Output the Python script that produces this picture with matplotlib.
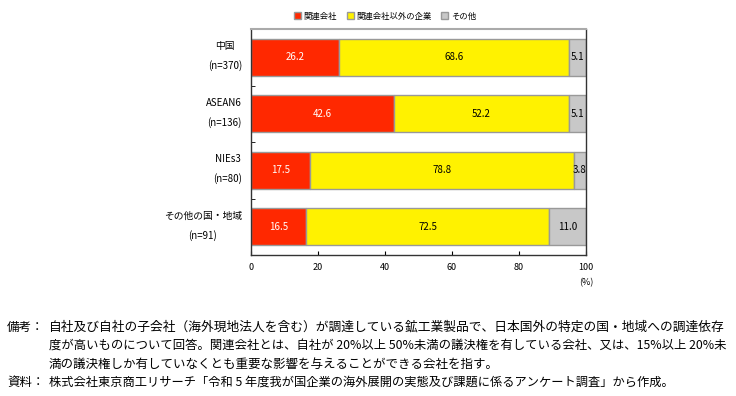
import matplotlib
matplotlib.use("Agg")
import matplotlib.pyplot as plt
import matplotlib.transforms as mtransforms
import numpy as np

plt.rcParams['font.family'] = ['Noto Sans CJK JP', 'DejaVu Sans']

# データ
regions = ["中国", "ASEAN6", "NIEs3", "その他の国・地域"]
counts = ["(n=370)", "(n=136)", "(n=80)", "(n=91)"]
kanren = [26.2, 42.6, 17.5, 16.5]
igai = [68.6, 52.2, 78.8, 72.5]
sonota = [5.1, 5.1, 3.8, 11.0]
series_names = ["関連会社", "関連会社以外の企業", "その他"]
xticks = [0, 20, 40, 60, 80, 100]

notes = [
    "自社及び自社の子会社（海外現地法人を含む）が調達している鉱工業製品で、日本国外の特定の国・地域への調達依存",
    "度が高いものについて回答。関連会社とは、自社が 20%以上 50%未満の議決権を有している会社、又は、15%以上 20%未",
    "満の議決権しか有していなくとも重要な影響を与えることができる会社を指す。",
]
source = "株式会社東京商工リサーチ「令和 5 年度我が国企業の海外展開の実態及び課題に係るアンケート調査」から作成。"

colors = ["#FF2800", "#FFF200", "#C8C8C8"]
text_colors = ["white", "black", "black"]

fig = plt.figure(figsize=(7.36, 3.96), dpi=100)
ax = fig.add_axes([251/736, 1 - 255/396, 335/736, 226/396])

y = np.arange(len(regions))
left = np.zeros(len(regions))
handles = []
for vals, c, tc, name in zip([kanren, igai, sonota], colors, text_colors, series_names):
    bars = ax.barh(y, vals, left=left, height=0.66, color=c,
                   edgecolor="#999999", linewidth=1.0, label=name)
    handles.append(bars)
    for b, v in zip(bars, vals):
        ax.text(b.get_x() + b.get_width() / 2, b.get_y() + b.get_height() / 2,
                f"{v:.1f}", ha="center", va="center", fontsize=7, color=tc)
    left = left + np.array(vals)

ax.set_xlim(0, 100)
ax.set_ylim(len(regions) - 0.5, -0.5)
ax.set_xticks(xticks)
ax.set_xticklabels([str(t) for t in xticks], fontsize=6.5)
ax.set_yticks(y)
ax.set_yticklabels([])

# カテゴリ名（2行、中央揃え）
trans = mtransforms.blended_transform_factory(ax.transAxes, ax.transData)
for yi, r, n in zip(y, regions, counts):
    ax.text(-0.027, yi - 0.02, f"{r}\n{n}", transform=trans, ha="right", va="center",
            multialignment="center", fontsize=7, linespacing=2.0)

ax.set_yticks(np.arange(len(regions) - 1) + 0.5, minor=True)
ax.tick_params(axis="y", which="major", length=0)
ax.tick_params(axis="y", which="minor", length=3, direction="in")
ax.tick_params(axis="x", length=3, direction="in", pad=6)
for s in ["left", "bottom", "right"]:
    ax.spines[s].set_color("#333333")
    ax.spines[s].set_linewidth(1.0)
ax.spines["top"].set_color("#AAAAAA")
ax.spines["top"].set_linewidth(1.5)

fig.text(586/736, 1 - 283/396, "(%)", ha="center", va="center", fontsize=6.5)

fig.legend(handles=handles, loc="center", bbox_to_anchor=(385/736, 1 - 16/396),
           ncol=3, frameon=False, fontsize=6, handlelength=0.8, handleheight=0.8,
           handletextpad=0.3, columnspacing=1.2)

# 備考・資料
renderer = fig.canvas.get_renderer()


def fitted_text(x0, x1, ypix, s):
    # 幅を参照画像に合わせてフォントサイズを調整
    t = fig.text(x0/736, 1 - ypix/396, s, fontsize=9, va="center")
    w = t.get_window_extent(renderer).width
    if x1 is not None:
        t.set_fontsize(9 * (x1 - x0) / w)
    return t


notes_y = [327, 345, 364, 382]
fig.text(7/736, 1 - notes_y[0]/396, "備考：", fontsize=9, va="center")
fitted_text(49, 725, notes_y[0], notes[0])
fitted_text(49, 725, notes_y[1], notes[1])
fitted_text(49, None, notes_y[2], notes[2])
fig.text(7/736, 1 - notes_y[3]/396, "資料：", fontsize=9, va="center")
fitted_text(49, 673, notes_y[3], source)

fig.savefig("out.png", dpi=100)
